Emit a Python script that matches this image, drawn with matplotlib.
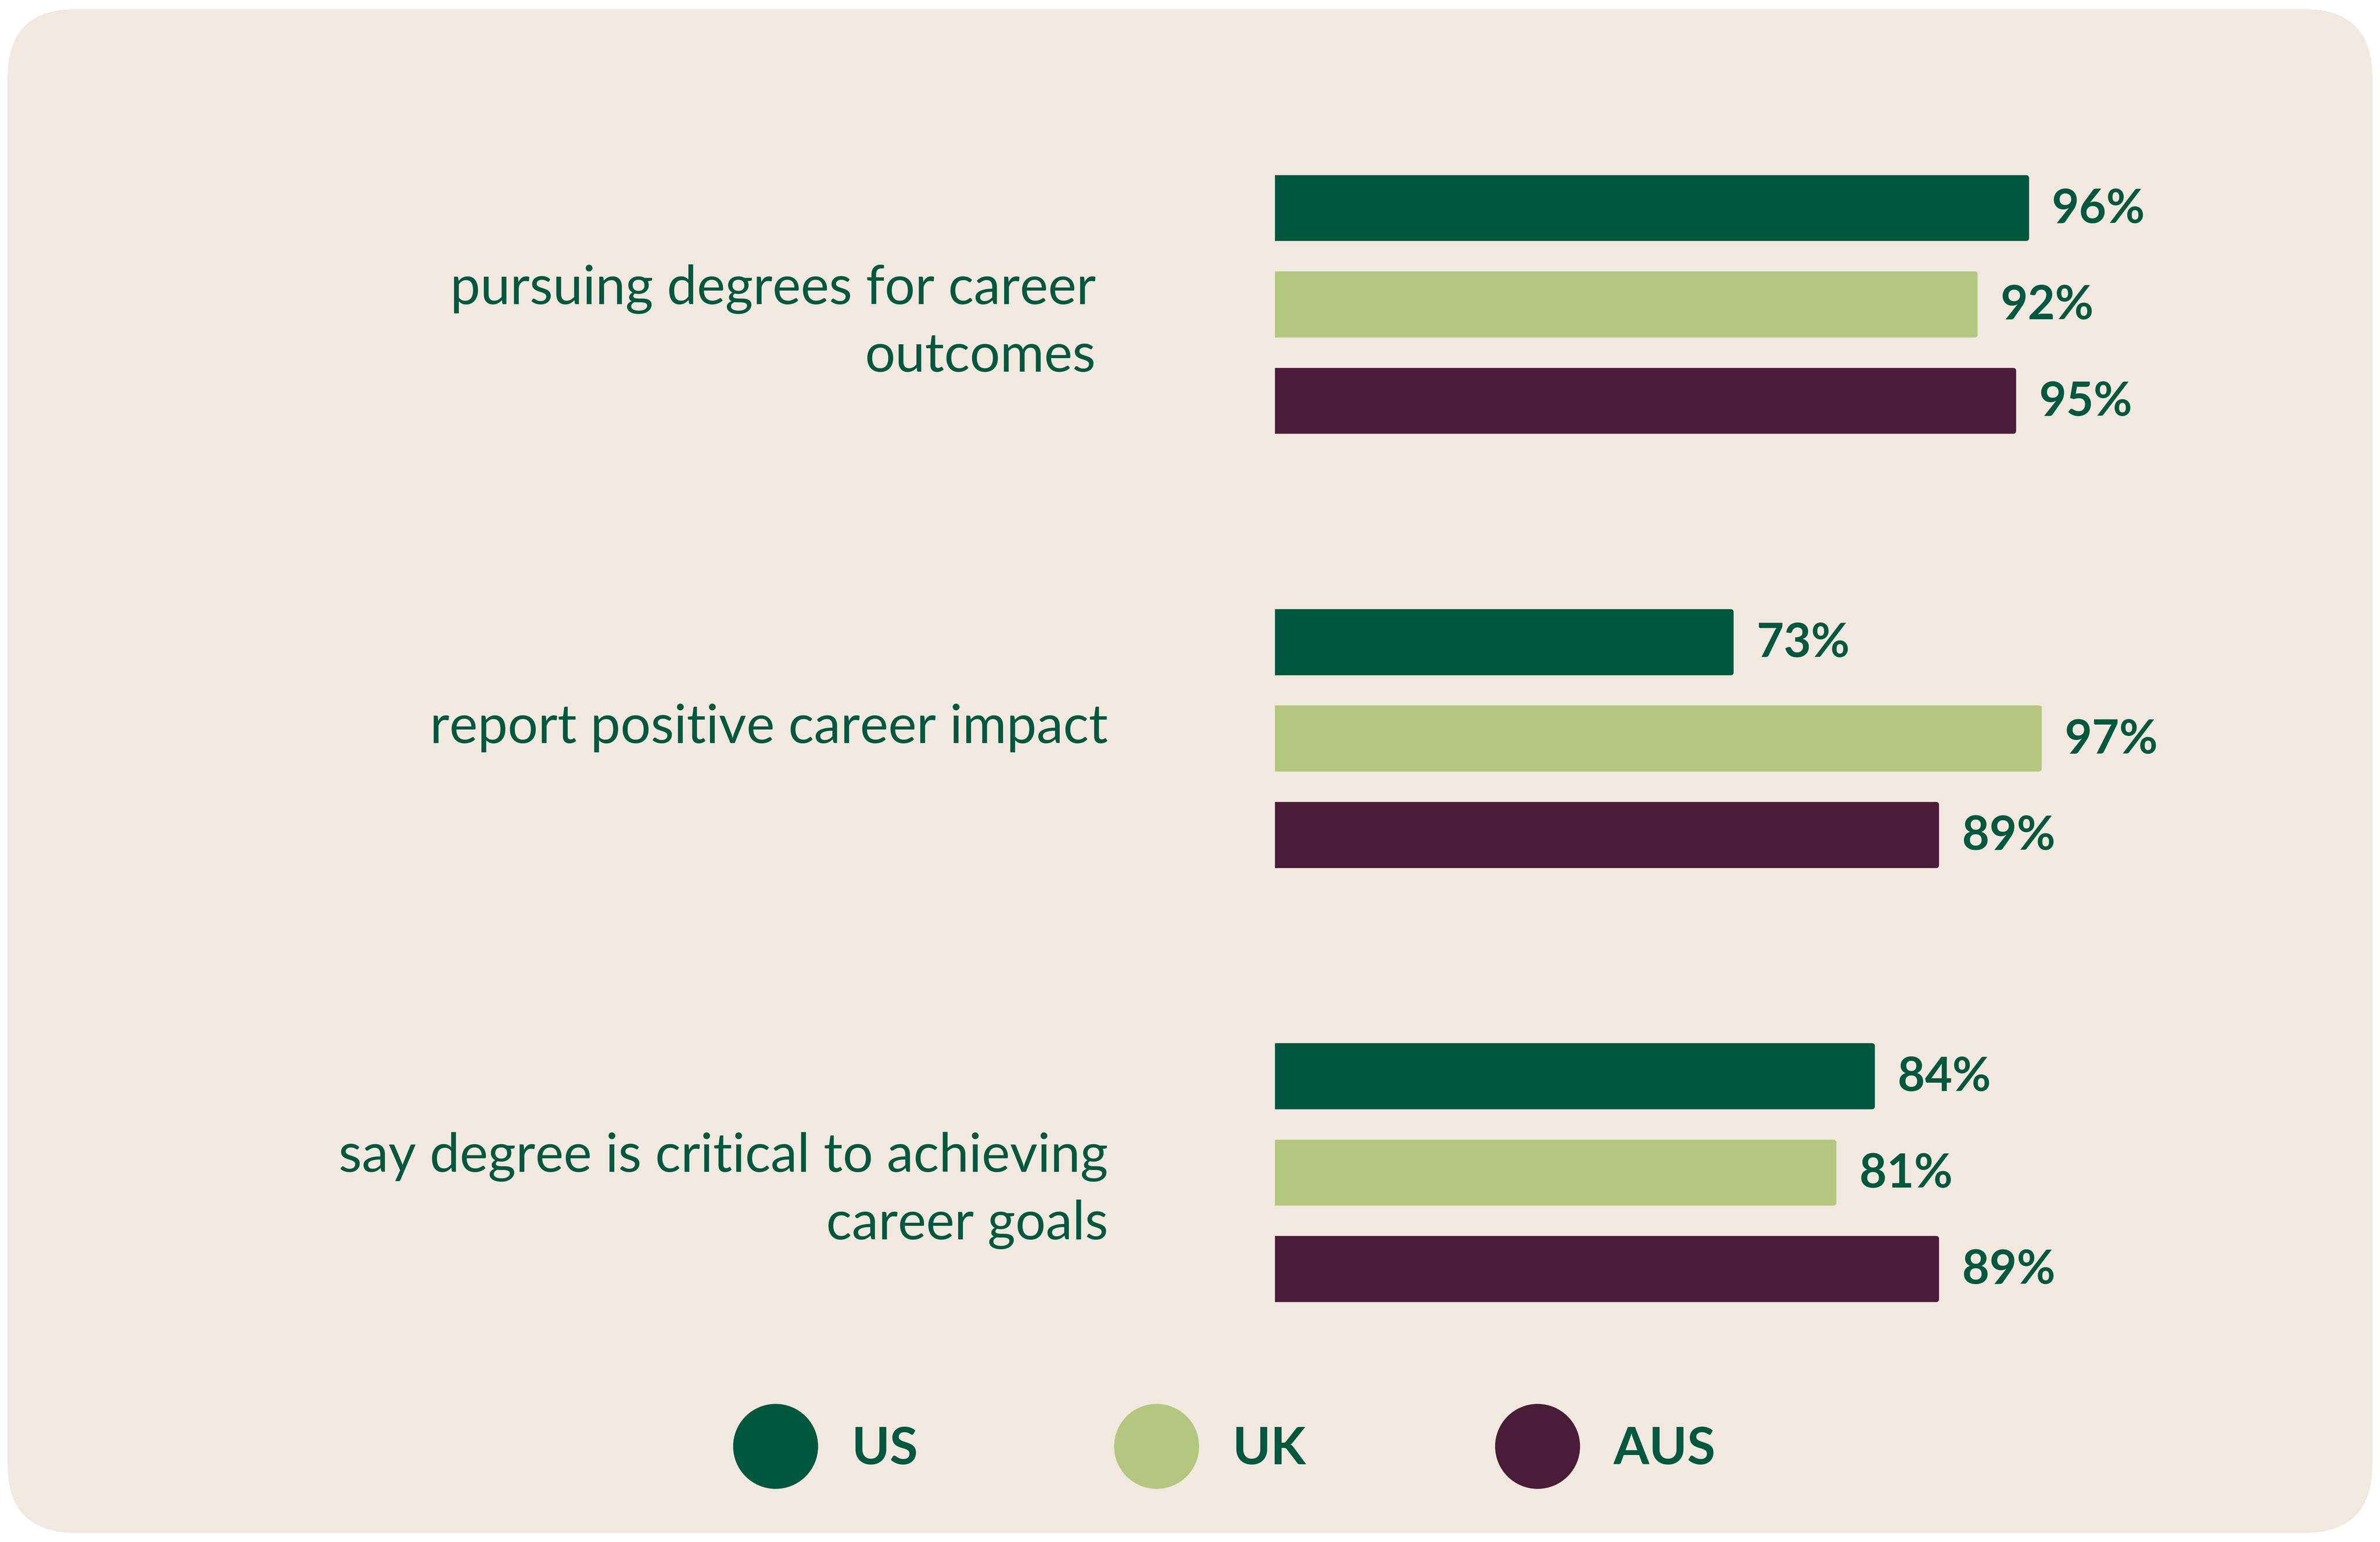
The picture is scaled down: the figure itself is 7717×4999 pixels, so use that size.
import matplotlib
matplotlib.use("Agg")
import matplotlib.pyplot as plt
from matplotlib.patches import FancyBboxPatch, Circle

categories = ["pursuing degrees for career\noutcomes",
              "report positive career impact",
              "say degree is critical to achieving\ncareer goals"]
series = ["US", "UK", "AUS"]
us = [96, 73, 84]
uk = [92, 97, 81]
aus = [95, 89, 89]
values = [us, uk, aus]
colors = ["#02573F", "#B3C77F", "#4B1C37"]
text_color = "#02573F"
bg = "#F1E9E0"

W, H = 1568, 1016
fig = plt.figure(figsize=(15.434, 9.998), dpi=500)
fig.patch.set_facecolor("white")

# background overlay axes in pixel coords
ov = fig.add_axes([0, 0, 1, 1])
ov.set_xlim(0, W); ov.set_ylim(H, 0); ov.axis("off")
ov.add_patch(FancyBboxPatch((5, 6), W - 10, H - 12,
                            boxstyle="round,pad=0,rounding_size=45",
                            fc=bg, ec="none"))

# bar axes: x from px 840 to 1480, y from px 0 to H
x0, x1 = 840, 1480
ax = fig.add_axes([x0 / W, 0, (x1 - x0) / W, 1])
ax.patch.set_alpha(0)
xmin = 37.5
ax.set_xlim(xmin, xmin + (x1 - x0) / 8.46)
ax.set_ylim(H, 0)
ax.axis("off")

base, gstep, bstep, bh = 137, 286, 63.5, 40
for g, cat in enumerate(categories):
    for i in range(3):
        y = base + g * gstep + i * bstep
        v = values[i][g]
        ax.barh(y, v - xmin, left=xmin, height=bh, color=colors[i],
                edgecolor=colors[i], linewidth=2.5, joinstyle="round")
        ax.text(v + 2.0, y + 1, f"{v}%", va="center", ha="left",
                fontsize=22, fontweight="bold", color=text_color, family="Lato")
    yc = base + g * gstep + bstep
    ov.text(730 if g else 722, yc + (12 if "\n" in cat else -7), cat, ha="right", va="center",
            fontsize=25, color=text_color, family="Lato", linespacing=1.45)

# legend
lx = [511, 762, 1013]
for i, s in enumerate(series):
    ov.add_patch(Circle((lx[i], 953), 28, fc=colors[i], ec="none"))
    ov.text(lx[i] + 50, 955, s, ha="left", va="center", fontsize=24,
            fontweight="bold", color=text_color, family="Lato")

fig.savefig("out.png", dpi=500, facecolor="white")
